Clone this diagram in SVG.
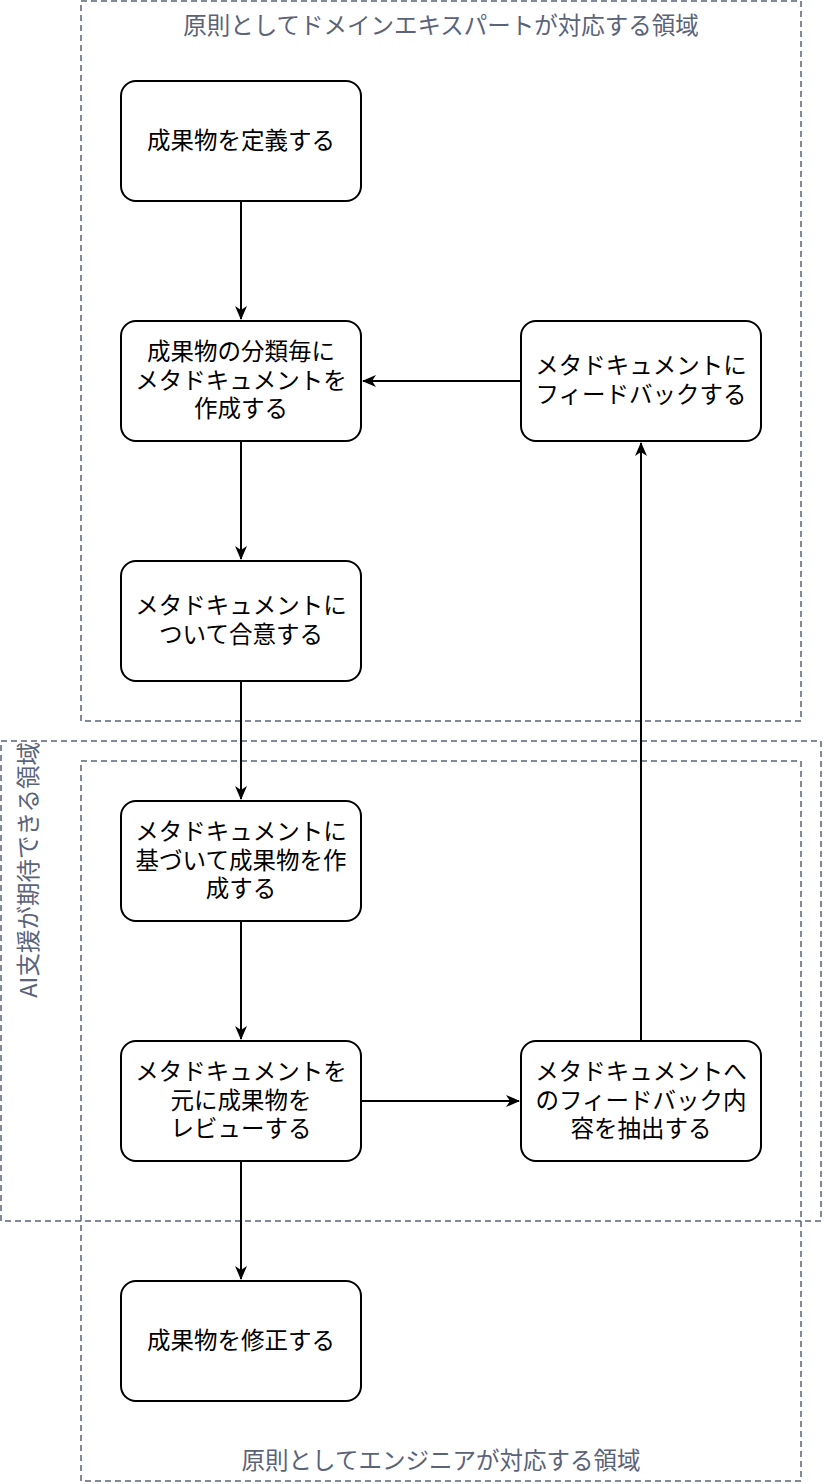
<svg xmlns="http://www.w3.org/2000/svg" width="824" height="1484" viewBox="0 0 824 1484">
<style>
.zone{fill:none;stroke:#5a6378;stroke-width:1.5;stroke-dasharray:6 4}
.zl{font-family:"Noto Sans CJK JP","Noto Sans",sans-serif;font-size:23.5px;fill:#5a6378;text-anchor:middle}
.box{fill:#fff;stroke:#000;stroke-width:2}
.t{font-family:"Noto Sans CJK JP","Noto Sans",sans-serif;font-size:23.5px;fill:#000;text-anchor:middle}
.e{fill:none;stroke:#000;stroke-width:2}
</style>
<defs>
<marker id="arr" markerWidth="14" markerHeight="12" viewBox="0 0 14 12" refX="13" refY="6" orient="auto" markerUnits="userSpaceOnUse">
<path d="M0,0 L14,6 L0,12 L4,6 z" fill="#000"/>
</marker>
</defs>
<g id="zones">
<g id="zone-domain"><rect class="zone" x="81" y="1" width="720" height="720"/><text class="zl" x="441" y="34">原則としてドメインエキスパートが対応する領域</text></g>
<g id="zone-engineer"><rect class="zone" x="81" y="761" width="720" height="720"/><text class="zl" x="441" y="1469">原則としてエンジニアが対応する領域</text></g>
<g id="zone-ai"><rect class="zone" x="1" y="741" width="820" height="480"/><text class="zl" style="text-anchor:end" transform="translate(37,742) rotate(-90)">AI支援が期待できる領域</text></g>
</g>
<g id="connectors">
<path class="e" d="M241,201 V319" marker-end="url(#arr)"/>
<path class="e" d="M241,441 V559" marker-end="url(#arr)"/>
<path class="e" d="M241,681 V799" marker-end="url(#arr)"/>
<path class="e" d="M241,921 V1039" marker-end="url(#arr)"/>
<path class="e" d="M241,1161 V1279" marker-end="url(#arr)"/>
<path class="e" d="M361,1101 H519" marker-end="url(#arr)"/>
<path class="e" d="M641,1041 V443" marker-end="url(#arr)"/>
<path class="e" d="M521,381 H363" marker-end="url(#arr)"/>
</g>
<g id="n1"><rect class="box" x="121" y="81" width="240" height="120" rx="15"/><text class="t" x="241" y="149">成果物を定義する</text></g>
<g id="n2"><rect class="box" x="121" y="321" width="240" height="120" rx="15"/><text class="t" x="241" y="360">成果物の分類毎に</text><text class="t" x="241" y="389">メタドキュメントを</text><text class="t" x="241" y="417">作成する</text></g>
<g id="n3"><rect class="box" x="121" y="561" width="240" height="120" rx="15"/><text class="t" x="241" y="614">メタドキュメントに</text><text class="t" x="241" y="643">ついて合意する</text></g>
<g id="n4"><rect class="box" x="121" y="801" width="240" height="120" rx="15"/><text class="t" x="241" y="840">メタドキュメントに</text><text class="t" x="241" y="869">基づいて成果物を作</text><text class="t" x="241" y="897">成する</text></g>
<g id="n5"><rect class="box" x="121" y="1041" width="240" height="120" rx="15"/><text class="t" x="241" y="1080">メタドキュメントを</text><text class="t" x="241" y="1109">元に成果物を</text><text class="t" x="241" y="1137">レビューする</text></g>
<g id="n6"><rect class="box" x="121" y="1281" width="240" height="120" rx="15"/><text class="t" x="241" y="1349">成果物を修正する</text></g>
<g id="n7"><rect class="box" x="521" y="321" width="240" height="120" rx="15"/><text class="t" x="641" y="374">メタドキュメントに</text><text class="t" x="641" y="403">フィードバックする</text></g>
<g id="n8"><rect class="box" x="521" y="1041" width="240" height="120" rx="15"/><text class="t" x="641" y="1080">メタドキュメントへ</text><text class="t" x="641" y="1109">のフィードバック内</text><text class="t" x="641" y="1137">容を抽出する</text></g>
</svg>
